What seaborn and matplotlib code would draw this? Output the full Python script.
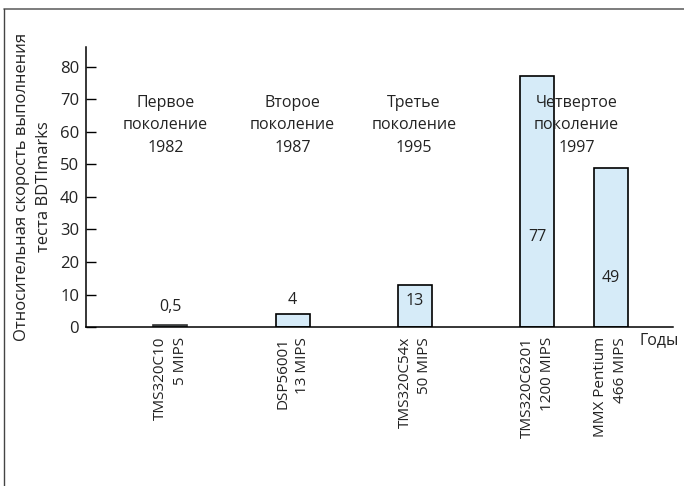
import pandas as pd
import seaborn as sns
import matplotlib.pyplot as plt
from matplotlib.lines import Line2D

# data
chips = ["TMS320C10\n5 MIPS", "DSP56001\n13 MIPS", "TMS320C54x\n50 MIPS",
         "TMS320C6201\n1200 MIPS", "MMX Pentium\n466 MIPS"]
speed = [0.5, 4, 13, 77, 49]
value_labels = ["0,5", "4", "13", "77", "49"]
generations = ["Первое\nпоколение\n1982", "Второе\nпоколение\n1987",
               "Третье\nпоколение\n1995", "Четвертое\nпоколение\n1997"]

# layout: where each bar sits on the (uneven) horizontal axis
slot = [1, 2, 3, 4, 4.6]
gen_x = [0.96, 2.0, 2.99, 4.32]
label_y = [6.2, 8.3, 8.0, 27.7, 15.0]

sns.set_style("white")
plt.rcParams["font.family"] = ["Open Sans", "DejaVu Sans"]
ink = "#222222"

df = pd.DataFrame({"slot": slot, "speed": speed})

fig = plt.figure(figsize=(6.84, 4.86), dpi=100)
ax = fig.add_axes([0.1257, 0.327, 0.984 - 0.1257, 0.903 - 0.327])

sns.barplot(data=df, x="slot", y="speed", native_scale=True, width=0.28 / 0.6,
            color="#d6ebf8", saturation=1, edgecolor="black", linewidth=1.2, ax=ax)
ax.patches[0].set_facecolor("#5f7680")
ax.patches[0].set_edgecolor("#333333")

ax.set_xlim(0.31, 5.11)
ax.set_ylim(0, 86)
ax.set_yticks(range(0, 81, 10))
ax.tick_params(axis="y", direction="in", length=7, width=1, pad=5,
               labelsize=12, color="black", labelcolor=ink, left=True)
ax.set_xticks(slot)
ax.set_xticklabels(chips, rotation=90, ha="center", va="top",
                   multialignment="right", fontsize=11, color=ink, linespacing=1.45)
ax.tick_params(axis="x", length=0, pad=7)
ax.set_xlabel("")
ax.set_ylabel("Относительная скорость выполнения\nтеста BDTImarks",
              fontsize=12, color=ink, linespacing=1.5)
ax.yaxis.set_label_coords(-0.058, 0.5)

for s in ["top", "right"]:
    ax.spines[s].set_visible(False)
for s in ["left", "bottom"]:
    ax.spines[s].set_color("black")
    ax.spines[s].set_linewidth(1.1)

for x, y, t in zip(slot, label_y, value_labels):
    ax.text(x, y, t, ha="center", va="center", fontsize=11.5, color=ink)

for x, t in zip(gen_x, generations):
    ax.text(x, 62, t, ha="center", va="center", fontsize=11.5, color=ink,
            linespacing=1.55)

ax.text(0.943, -0.045, "Годы", transform=ax.transAxes, ha="left", va="center",
        fontsize=11.5, color=ink)

# frame lines of the original figure
fig.add_artist(Line2D([4 / 684, 1], [1 - 9 / 486, 1 - 9 / 486], color="#666666", lw=1.2))
fig.add_artist(Line2D([4 / 684, 4 / 684], [0, 1 - 9 / 486], color="#444444", lw=1.0))

fig.savefig("out.png", dpi=100)
